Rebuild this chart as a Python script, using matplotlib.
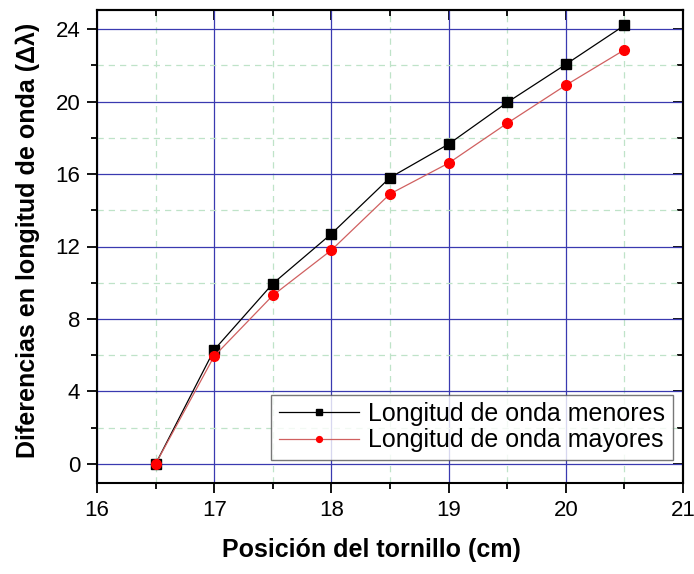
import matplotlib
matplotlib.use("Agg")
import matplotlib.pyplot as plt
from matplotlib.ticker import MultipleLocator
from matplotlib.transforms import ScaledTranslation

plt.rcParams['font.family'] = ['Liberation Sans', 'DejaVu Sans']

x = [16.5, 17.0, 17.5, 18.0, 18.5, 19.0, 19.5, 20.0, 20.5]
menores = [0.0, 6.3, 9.95, 12.7, 15.8, 17.65, 19.95, 22.05, 24.2]
mayores = [0.0, 5.95, 9.3, 11.8, 14.9, 16.6, 18.8, 20.9, 22.85]
labels = ["Longitud de onda menores", "Longitud de onda mayores"]

fig = plt.figure(figsize=(6.94, 5.74), dpi=100)
ax = fig.add_axes([97/694, 1-483/574, (683-97)/694, (483-10)/574])

ax.plot(x, menores, color='black', lw=0.9, marker='s', ms=6.5, mfc='black', mec='black', label=labels[0], zorder=4)
ax.plot(x, mayores, color='#d06060', lw=0.9, marker='o', ms=7, mfc='red', mec='red', label=labels[1], zorder=5)

ax.set_xlim(16, 21)
ax.set_ylim(-1.05, 25.05)
ax.xaxis.set_major_locator(MultipleLocator(1))
ax.xaxis.set_minor_locator(MultipleLocator(0.5))
ax.yaxis.set_major_locator(MultipleLocator(4))
ax.yaxis.set_minor_locator(MultipleLocator(2))

ax.grid(which='major', color='#3a3ab0', lw=0.9, ls='-', zorder=0)
ax.grid(which='minor', color='#bfe3c8', lw=0.9, ls=(0, (5, 4)), zorder=0)
ax.set_axisbelow(True)

ax.tick_params(which='both', direction='out', labelsize=16, width=1.3, colors='black', pad=5)
ax.tick_params(which='major', length=7)
ax.tick_params(which='minor', length=4)
sx = ax.secondary_xaxis('top')
sx.xaxis.set_major_locator(MultipleLocator(1))
sx.xaxis.set_minor_locator(MultipleLocator(0.5))
sx.tick_params(which='both', direction='in', labeltop=False, width=1.3)
sx.tick_params(which='major', length=7)
sx.tick_params(which='minor', length=4)
sy = ax.secondary_yaxis('right')
sy.yaxis.set_major_locator(MultipleLocator(4))
sy.yaxis.set_minor_locator(MultipleLocator(2))
sy.tick_params(which='both', direction='in', labelright=False, width=1.3)
sy.tick_params(which='major', length=7)
sy.tick_params(which='minor', length=4)
for s in list(ax.spines.values()) + [sx.spines['top'], sy.spines['right']]:
    s.set_linewidth(1.5)

ax.set_xlabel("Posición del tornillo (cm)", fontsize=18, fontweight='bold')
ax.xaxis.set_label_coords((371-97)/586, -(550-483)/473, transform=ax.transAxes)
ax.xaxis.label.set_va('center')
ax.set_ylabel("Diferencias en longitud de onda (Δλ)", fontsize=18, fontweight='bold')
ax.yaxis.set_label_coords(-(97-28)/586, (483-240)/473, transform=ax.transAxes)
ax.yaxis.label.set_va('center')

leg = ax.legend(loc='lower right', bbox_to_anchor=(673/694, 1-460/574), bbox_transform=fig.transFigure,
                fontsize=18, frameon=True, fancybox=False, edgecolor='#555555',
                borderpad=0.3, handlelength=3.2, labelspacing=0.1, handletextpad=0.4, markerscale=0.6,
                borderaxespad=0.0)
leg.get_frame().set_linewidth(1.0)

fig.canvas.draw()
last = ax.get_xticklabels()[-1]
last.set_transform(last.get_transform() + ScaledTranslation(-4/100, 0, fig.dpi_scale_trans))

fig.savefig("out.png", dpi=100)
